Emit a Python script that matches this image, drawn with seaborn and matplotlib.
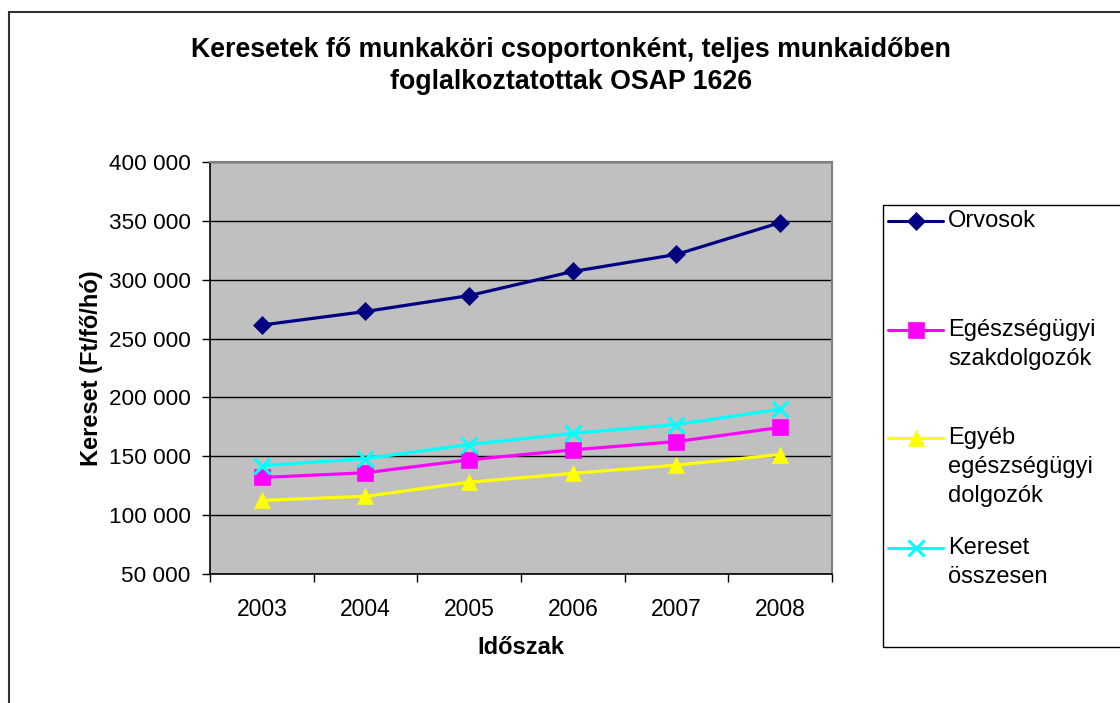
import matplotlib
matplotlib.use("Agg")
import matplotlib.pyplot as plt
from matplotlib.ticker import FuncFormatter, FixedLocator
from matplotlib.patches import Rectangle
from matplotlib.lines import Line2D
import seaborn as sns
import pandas as pd

years = [2003, 2004, 2005, 2006, 2007, 2008]
series_names = ["Orvosok", "Egészségügyi\nszakdolgozók", "Egyéb\negészségügyi\ndolgozók", "Kereset\nösszesen"]
orvosok = [261500, 273000, 286500, 307000, 321500, 348500]
szakdolgozok = [132000, 136000, 147000, 155500, 162500, 174500]
egyeb = [112500, 116000, 128000, 135500, 142500, 151500]
osszesen = [142000, 148000, 160000, 169500, 177000, 190000]
yticks = [50000, 100000, 150000, 200000, 250000, 300000, 350000, 400000]

title = "Keresetek fő munkaköri csoportonként, teljes munkaidőben\nfoglalkoztatottak OSAP 1626"
xlabel = "Időszak"
ylabel = "Kereset (Ft/fő/hó)"

colors = ["#000080", "#FF00FF", "#FFFF00", "#00FFFF"]
markers = ["D", "s", "^", "x"]
msizes = [9, 11, 11, 11]

sns.set_style("white")
plt.rcParams["font.family"] = ["Liberation Sans", "DejaVu Sans"]
plt.rcParams["text.color"] = "black"
plt.rcParams["axes.labelcolor"] = "black"
plt.rcParams["xtick.color"] = "black"
plt.rcParams["ytick.color"] = "black"

W, H = 1120, 703
fig = plt.figure(figsize=(W / 100, H / 100), dpi=100)
ax = fig.add_axes([210 / W, 1 - 574 / H, (832 - 210) / W, (574 - 162) / H])
ax.set_facecolor("#C0C0C0")

values = [orvosok, szakdolgozok, egyeb, osszesen]
rows = []
for name, vals in zip(series_names, values):
    for y, v in zip(years, vals):
        rows.append({"year": y, "value": v, "series": name})
df = pd.DataFrame(rows)

for i, name in enumerate(series_names):
    sub = df[df["series"] == name]
    sns.lineplot(data=sub, x="year", y="value", ax=ax, color=colors[i],
                 marker=markers[i], markersize=msizes[i], linewidth=2.3,
                 markeredgecolor=colors[i], markerfacecolor=colors[i],
                 markeredgewidth=2.2 if markers[i] == "x" else 0.5,
                 legend=False, zorder=3)

ax.set_xlim(years[0] - 0.5, years[-1] + 0.5)
ax.set_ylim(yticks[0], yticks[-1])
ax.set_yticks(yticks)
ax.yaxis.set_major_formatter(FuncFormatter(lambda v, p: f"{int(v):,}".replace(",", " ")))
ax.grid(axis="y", color="black", linewidth=1.0)
ax.set_axisbelow(True)

ax.xaxis.set_major_locator(FixedLocator([y - 0.5 for y in years] + [years[-1] + 0.5]))
ax.xaxis.set_minor_locator(FixedLocator(years))
ax.set_xticklabels([])
ax.set_xticklabels([str(y) for y in years], minor=True)
ax.tick_params(axis="x", which="major", direction="out", length=6, width=1, color="black", bottom=True)
ax.tick_params(axis="x", which="minor", length=0, pad=17, labelsize=16.5)
ax.tick_params(axis="y", direction="out", length=6, width=1, color="black", left=True, labelsize=16.2, pad=8)

for s in ["top", "right"]:
    ax.spines[s].set_color("#808080")
    ax.spines[s].set_linewidth(1.5)
for s in ["left", "bottom"]:
    ax.spines[s].set_color("black")
    ax.spines[s].set_linewidth(1.2)

ax.set_xlabel(xlabel, fontsize=17, fontweight="bold", labelpad=11)
ax.set_ylabel(ylabel, fontsize=17, fontweight="bold", labelpad=4)

fig.text(571 / W, 1 - 66 / H, title, ha="center", va="center", fontsize=19.3,
         fontweight="bold", linespacing=1.34)

# outer chart border
fig.add_artist(Rectangle((9 / W, -0.1), 1.2, 1 - 12 / H + 0.1, transform=fig.transFigure,
                         fill=False, edgecolor="#333333", linewidth=1.5))

# legend box
lx0, ltop, lbot = 883, 205, 647
fig.add_artist(Rectangle((lx0 / W, 1 - lbot / H), 0.3, (lbot - ltop) / H,
                         transform=fig.transFigure, fill=False, edgecolor="black", linewidth=1.0))
entry_y = [221, 330, 438, 548]
line_dy = 29
for i, name in enumerate(series_names):
    yy = 1 - entry_y[i] / H
    fig.add_artist(Line2D([888 / W, 943 / W], [yy, yy], transform=fig.transFigure,
                          color=colors[i], linewidth=2.2))
    fig.add_artist(Line2D([916 / W], [yy], transform=fig.transFigure, color=colors[i],
                          marker=markers[i], markersize=msizes[i], markerfacecolor=colors[i],
                          markeredgecolor=colors[i],
                          markeredgewidth=2.2 if markers[i] == "x" else 0.5, linestyle="none"))
    for j, line in enumerate(name.split("\n")):
        fig.text(948 / W, 1 - (entry_y[i] + j * line_dy) / H, line, ha="left", va="center",
                 fontsize=17)

fig.savefig("out.png", dpi=100)
